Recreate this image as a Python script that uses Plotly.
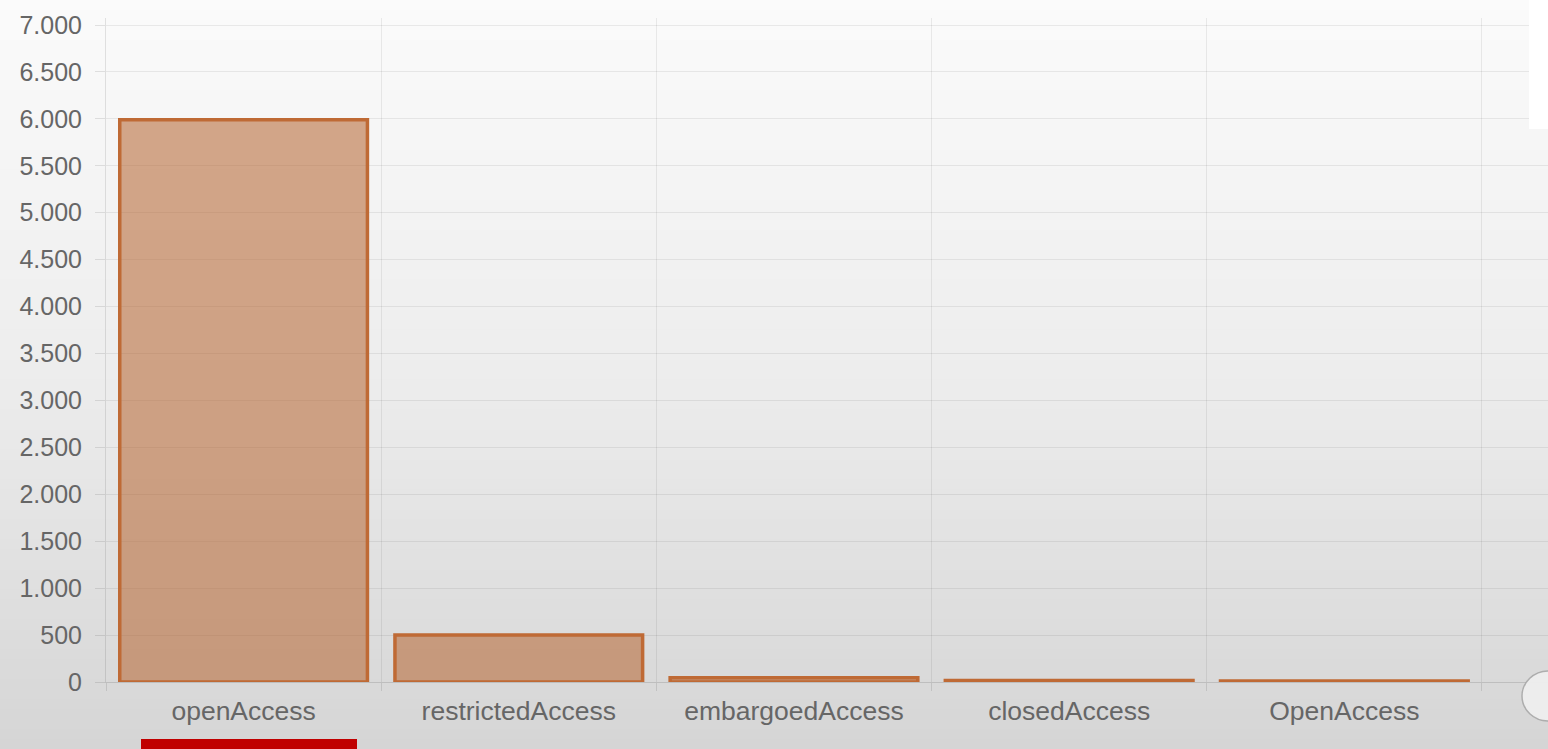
import plotly.graph_objects as go

# ---- data ----
categories = ["openAccess", "restrictedAccess", "embargoedAccess", "closedAccess", "OpenAccess"]
values = [5990, 500, 45, 15, 10]
y_tick_values = list(range(0, 7001, 500))

W, H = 1548, 749
L, R, T, B = 106, 0, 18, 67
pw, ph = W - L - R, H - T - B


def px(x):
    return (x - L) / pw


def py(y):
    return (H - B - y) / ph


fig = go.Figure()
fig.add_trace(go.Bar(
    x=categories, y=values, width=0.9,
    marker=dict(color="rgba(183,104,52,0.57)",
                line=dict(color="#bf6a35", width=3.5)),
    hoverinfo="x+y",
))

shapes = []
# background vertical gradient (decoration)
n = 75
stops = [(0, 251), (0.5, 237), (1.0, 213)]


def shade(t):
    for (t0, c0), (t1, c1) in zip(stops[:-1], stops[1:]):
        if t <= t1:
            return c0 + (c1 - c0) * (t - t0) / (t1 - t0)
    return stops[-1][1]


for i in range(n):
    y0 = H * i / n
    y1 = H * (i + 1) / n + 1
    c = int(round(shade((i + 0.5) / n)))
    shapes.append(dict(type="rect", xref="paper", yref="paper",
                       x0=px(0), x1=px(W), y0=py(y1), y1=py(y0),
                       fillcolor=f"rgb({c},{c},{c})", line=dict(width=0),
                       layer="below"))
# screenshot artefacts
shapes.append(dict(type="rect", xref="paper", yref="paper",
                   x0=px(1529), x1=px(W + 5), y0=py(129), y1=py(-5),
                   fillcolor="white", line=dict(width=0), layer="above"))
shapes.append(dict(type="rect", xref="paper", yref="paper",
                   x0=px(141), x1=px(357), y0=py(W + 5), y1=py(739),
                   fillcolor="#c00000", line=dict(width=0), layer="above"))
shapes.append(dict(type="circle", xref="paper", yref="paper",
                   x0=px(1522), x1=px(1575), y0=py(721), y1=py(671),
                   fillcolor="rgba(238,238,238,0.95)",
                   line=dict(color="rgba(160,160,160,0.8)", width=1.5),
                   layer="above"))

fig.update_layout(
    width=W, height=H,
    margin=dict(l=L, r=R, t=T, b=B, pad=0),
    paper_bgcolor="#eeeeee",
    plot_bgcolor="rgba(0,0,0,0)",
    separators=",.",
    showlegend=False,
    bargap=0.1,
    shapes=shapes,
    font=dict(family="Liberation Sans, Arial, sans-serif", size=25, color="#666666"),
    xaxis=dict(
        type="category",
        range=[-0.5, 4.74],
        tickson="boundaries",
        ticks="outside", ticklen=8, tickcolor="rgba(0,0,0,0.1)",
        ticklabelstandoff=5,
        showgrid=True, gridcolor="rgba(0,0,0,0.07)", gridwidth=1,
        showline=True, linecolor="rgba(0,0,0,0.12)", linewidth=1,
        tickfont=dict(size=26.5, color="#666666"),
        fixedrange=True,
    ),
    yaxis=dict(
        range=[0, 7075],
        tickvals=y_tick_values,
        tickformat=",d",
        ticks="outside", ticklen=10, tickcolor="rgba(0,0,0,0.1)",
        ticklabelstandoff=8,
        showgrid=True, gridcolor="rgba(0,0,0,0.07)", gridwidth=1,
        zeroline=False,
        showline=True, linecolor="rgba(0,0,0,0.1)", linewidth=1,
        tickfont=dict(size=25, color="#666666"),
        fixedrange=True,
    ),
)

fig.write_html("out.html",
               config={"displayModeBar": False},
               post_script="document.body.style.margin='0px';document.body.style.overflow='hidden';")
